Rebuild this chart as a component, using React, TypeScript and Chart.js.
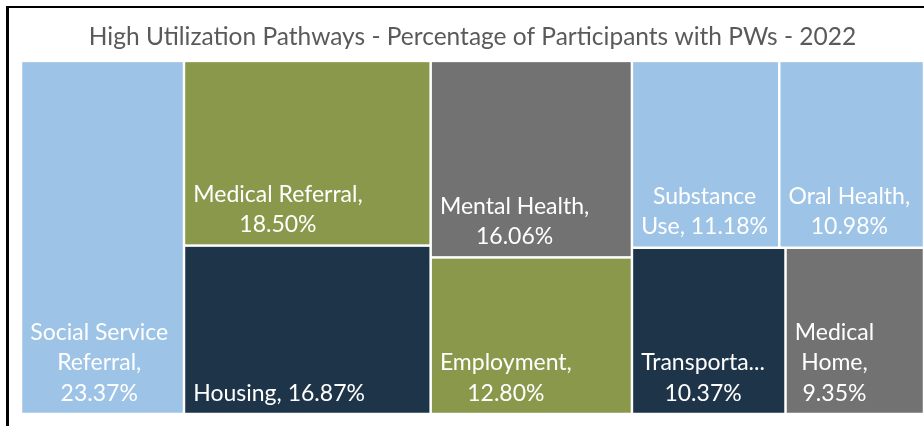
import React, { useEffect, useRef } from "react";
import { Chart, registerables } from "chart.js";

Chart.register(...registerables);

// ---------- data ----------
const titleText = "High Utilization Pathways - Percentage of Participants with PWs - 2022";
const categories = [
  "Social Service Referral",
  "Medical Referral",
  "Housing",
  "Mental Health",
  "Employment",
  "Substance Use",
  "Oral Health",
  "Transportation",
  "Medical Home",
];
const percentages = [23.37, 18.5, 16.87, 16.06, 12.8, 11.18, 10.98, 10.37, 9.35];
const cellColors = [
  "#9DC3E6",
  "#8A984B",
  "#1E3448",
  "#727272",
  "#8A984B",
  "#9DC3E6",
  "#9DC3E6",
  "#1E3448",
  "#727272",
];

// layout space (data units) for the treemap
const X_MAX = 300;
const Y_MAX = 100;

type Rect = { x: number; y: number; w: number; h: number; idx: number };

function squarify(values: number[], W: number, H: number): Rect[] {
  const order = values.map((v, i) => i).sort((a, b) => values[b] - values[a]);
  const total = values.reduce((a, b) => a + b, 0);
  const areas = order.map((i) => (values[i] / total) * W * H);
  const out: Rect[] = [];
  let x = 0, y = 0, w = W, h = H;
  const sum = (r: number[]) => r.reduce((a, b) => a + b, 0);
  const worst = (row: number[], side: number) => {
    const s = sum(row);
    const mx = Math.max(...row), mn = Math.min(...row);
    return Math.max((side * side * mx) / (s * s), (s * s) / (side * side * mn));
  };
  let i = 0;
  while (i < areas.length) {
    const side = Math.min(w, h);
    const row: number[] = [areas[i]];
    const ids: number[] = [order[i]];
    i++;
    while (i < areas.length && worst([...row, areas[i]], side) <= worst(row, side)) {
      row.push(areas[i]);
      ids.push(order[i]);
      i++;
    }
    const s = sum(row);
    if (w >= h) {
      const cw = s / h;
      let cy = y;
      row.forEach((a, k) => {
        const ch = a / cw;
        out.push({ x, y: cy, w: cw, h: ch, idx: ids[k] });
        cy += ch;
      });
      x += cw;
      w -= cw;
    } else {
      const rh = s / w;
      let cx = x;
      row.forEach((a, k) => {
        const cwid = a / rh;
        out.push({ x: cx, y, w: cwid, h: rh, idx: ids[k] });
        cx += cwid;
      });
      y += rh;
      h -= rh;
    }
  }
  return out;
}

const LABEL_FONT = "23px Lato";
const treemapPlugin = {
  id: "treemapCells",
  afterDatasetsDraw(chart: any) {
    const ctx: CanvasRenderingContext2D = chart.ctx;
    const xs = chart.scales.x;
    const ys = chart.scales.y;
    const rects = squarify(percentages, X_MAX, Y_MAX);
    const gap = 1.25;
    const padX = 8;
    const padBottom = 12;
    const lineH = 30.5;
    ctx.save();
    ctx.font = LABEL_FONT;
    rects.forEach((r) => {
      const l = xs.getPixelForValue(r.x) + gap;
      const rr = xs.getPixelForValue(r.x + r.w) - gap;
      const t = ys.getPixelForValue(r.y) + gap;
      const b = ys.getPixelForValue(r.y + r.h) - gap;
      ctx.fillStyle = cellColors[r.idx];
      ctx.fillRect(l, t, rr - l, b - t);

      // label
      const text = `${categories[r.idx]}, ${percentages[r.idx].toFixed(2)}%`;
      const avail = rr - l - 2 * padX;
      const words = text.split(" ");
      const lines: string[] = [];
      let cur = "";
      const fit = (wd: string) => {
        if (ctx.measureText(wd).width <= avail) return wd;
        let s = wd;
        while (s.length > 1 && ctx.measureText(s + "...").width > avail - 8) s = s.slice(0, -1);
        return s + "...";
      };
      words.forEach((wd) => {
        const trial = cur ? cur + " " + wd : wd;
        if (ctx.measureText(trial).width <= avail) cur = trial;
        else {
          if (cur) lines.push(cur);
          cur = fit(wd);
        }
      });
      if (cur) lines.push(cur);
      const maxW = Math.max(...lines.map((s) => ctx.measureText(s).width));
      const cx = l + padX + maxW / 2;
      ctx.fillStyle = "#FFFFFF";
      ctx.textAlign = "center";
      ctx.textBaseline = "alphabetic";
      lines.forEach((s, k) => {
        const yy = b - padBottom - (lines.length - 1 - k) * lineH;
        ctx.fillText(s, cx, yy);
      });
    });
    ctx.restore();
  },
};

export default function App() {
  const ref = useRef<HTMLCanvasElement | null>(null);
  useEffect(() => {
    if (!ref.current) return;
    const chart = new Chart(ref.current, {
      type: "scatter",
      data: { datasets: [{ label: "Pathways", data: [], pointRadius: 0 }] },
      options: {
        responsive: false,
        animation: false,
        layout: { padding: { left: 21, right: 0, top: 0, bottom: 12 } },
        scales: {
          x: { type: "linear", min: 0, max: X_MAX, display: false },
          y: { type: "linear", min: 0, max: Y_MAX, reverse: true, display: false },
        },
        plugins: {
          legend: { display: false },
          tooltip: { enabled: false },
          title: {
            display: true,
            text: titleText,
            color: "#5A5A5A",
            font: { family: "Lato", size: 24.5, weight: "normal", lineHeight: 1.2 },
            padding: { top: 22, bottom: 9.5 },
          },
        },
      },
      plugins: [treemapPlugin],
    });
    return () => chart.destroy();
  }, []);
  return (
    <div style={{ position: "fixed", left: 0, top: 0, width: 924, height: 426, background: "#fff" }}>
      <canvas ref={ref} width={924} height={426} style={{ position: "absolute", left: 0, top: 0 }} />
      <div
        style={{
          position: "absolute",
          left: 6,
          top: 6,
          width: 918,
          height: 420,
          borderTop: "2px solid #000",
          borderLeft: "3px solid #000",
          boxSizing: "border-box",
          pointerEvents: "none",
        }}
      />
    </div>
  );
}
